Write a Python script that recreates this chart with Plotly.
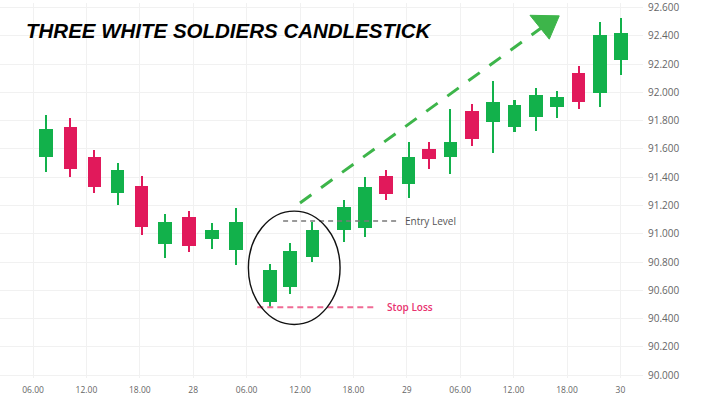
import plotly.graph_objects as go

# ---- data (hours from day 27 00:00) ----
times  = [7.5, 10.2, 12.9, 15.5, 18.2, 20.8, 23.5, 26.1, 28.8, 32.6, 34.9, 37.4, 40.9,
          43.3, 45.7, 48.2, 50.5, 52.9, 55.3, 57.7, 60.1, 62.5, 64.9, 67.3, 69.7, 72.1]
opens  = [91.54, 91.755, 91.54, 91.29, 91.34, 90.93, 91.115, 90.96, 90.885, 90.52, 90.625, 90.835, 91.03,
          91.04, 91.41, 91.35, 91.60, 91.54, 91.87, 91.79, 91.755, 91.825, 91.90, 92.14, 91.995, 92.23]
highs  = [91.84, 91.82, 91.59, 91.50, 91.41, 91.14, 91.16, 91.075, 91.18, 90.785, 90.935, 91.08, 91.24,
          91.40, 91.45, 91.65, 91.65, 91.88, 91.92, 92.08, 91.945, 92.035, 92.01, 92.19, 92.50, 92.525]
lows   = [91.44, 91.40, 91.29, 91.20, 90.99, 90.83, 90.87, 90.89, 90.78, 90.48, 90.575, 90.80, 90.94,
          90.98, 91.24, 91.25, 91.46, 91.42, 91.62, 91.57, 91.72, 91.73, 91.82, 91.88, 91.90, 92.12]
closes = [91.74, 91.46, 91.33, 91.45, 91.05, 91.08, 90.91, 91.03, 91.08, 90.74, 90.875, 91.03, 91.19,
          91.33, 91.28, 91.54, 91.53, 91.65, 91.67, 91.93, 91.91, 91.98, 91.965, 91.93, 92.41, 92.42]

tick_vals = [6, 12, 18, 24, 30, 36, 42, 48, 54, 60, 66, 72]
tick_text = ["06.00", "12.00", "18.00", "28", "06.00", "12.00", "18.00", "29", "06.00", "12.00", "18.00", "30"]
y_ticks = [90.0 + 0.2 * i for i in range(14)]
y_text = [f"{v:.3f}" for v in y_ticks]

entry_level = 91.09
entry_span = [34.1, 47.2]
stop_loss = 90.48
stop_span = [31.2, 44.6]
circle_x = [30.2, 40.5]
circle_y = [90.358, 91.16]
trend_start = (36.0, 91.218)
trend_end = (63.5, 92.474)
arrow_head = [(61.84, 92.546), (65.13, 92.542), (64.01, 92.377)]

GREEN = "#12B14B"
RED = "#E1195B"

colors = [GREEN if c >= o else RED for o, c in zip(opens, closes)]

fig = go.Figure()
# wicks
fig.add_trace(go.Bar(
    x=times, y=[h - l for h, l in zip(highs, lows)], base=lows,
    width=0.23, marker=dict(color=colors, line=dict(width=0)), hoverinfo="skip", showlegend=False))
# bodies
fig.add_trace(go.Bar(
    x=times, y=[abs(c - o) for o, c in zip(opens, closes)],
    base=[min(o, c) for o, c in zip(opens, closes)],
    width=1.55, marker=dict(color=colors, line=dict(width=0)), showlegend=False))

shapes = [
    dict(type="line", x0=entry_span[0], x1=entry_span[1], y0=entry_level, y1=entry_level,
         line=dict(color="#7a7a7a", width=1.5, dash="5px,4px")),
    dict(type="line", x0=stop_span[0], x1=stop_span[1], y0=stop_loss, y1=stop_loss,
         line=dict(color="#F06B95", width=2, dash="6px,4px")),
    dict(type="circle", x0=circle_x[0], x1=circle_x[1], y0=circle_y[0], y1=circle_y[1],
         line=dict(color="#111111", width=1.4)),
    dict(type="line", x0=trend_start[0], y0=trend_start[1], x1=trend_end[0], y1=trend_end[1],
         line=dict(color="#3DB54A", width=3, dash="14px,12px")),
    dict(type="path",
         path="M {} {} L {} {} L {} {} Z".format(arrow_head[0][0], arrow_head[0][1],
                                                 arrow_head[1][0], arrow_head[1][1],
                                                 arrow_head[2][0], arrow_head[2][1]),
         fillcolor="#3DB54A", line=dict(color="#3DB54A", width=1)),
]

annotations = [
    dict(text="THREE WHITE SOLDIERS CANDLESTICK", xref="paper", yref="paper",
         x=24 / 643, y=1 - 27.5 / 378, xanchor="left", yanchor="middle", showarrow=False,
         font=dict(family="Liberation Sans", size=20.5, color="#000000", weight="bold", style="italic")),
    dict(text="Entry Level", x=47.6, y=entry_level, xanchor="left", yanchor="middle",
         showarrow=False, font=dict(family="Open Sans", size=10, color="#555555")),
    dict(text="Stop Loss", x=45.6, y=stop_loss, xanchor="left", yanchor="middle",
         showarrow=False, font=dict(family="Open Sans", size=10, color="#E8336F", weight=600)),
]

fig.update_layout(
    width=710, height=395,
    margin=dict(l=0, r=67, t=0, b=17),
    paper_bgcolor="white", plot_bgcolor="white",
    barmode="overlay", bargap=0,
    shapes=shapes, annotations=annotations,
    xaxis=dict(range=[2.29, 74.54], tickvals=tick_vals, ticktext=tick_text,
               showgrid=True, gridcolor="#f1f1f1", gridwidth=1, zeroline=False,
               showline=False, ticks="", ticklabelstandoff=5, ticklabeloverflow="allow",
               tickfont=dict(family="Open Sans", size=8.5, color="#666666")),
    yaxis=dict(range=[89.979, 92.633], side="right", tickvals=y_ticks, ticktext=y_text,
               showgrid=True, gridcolor="#f1f1f1", gridwidth=1, zeroline=False,
               showline=False, ticks="", ticklabelstandoff=4, ticklabeloverflow="allow",
               tickfont=dict(family="Open Sans", size=10, color="#666666")),
    showlegend=False,
)

fig.write_html("out.html")
